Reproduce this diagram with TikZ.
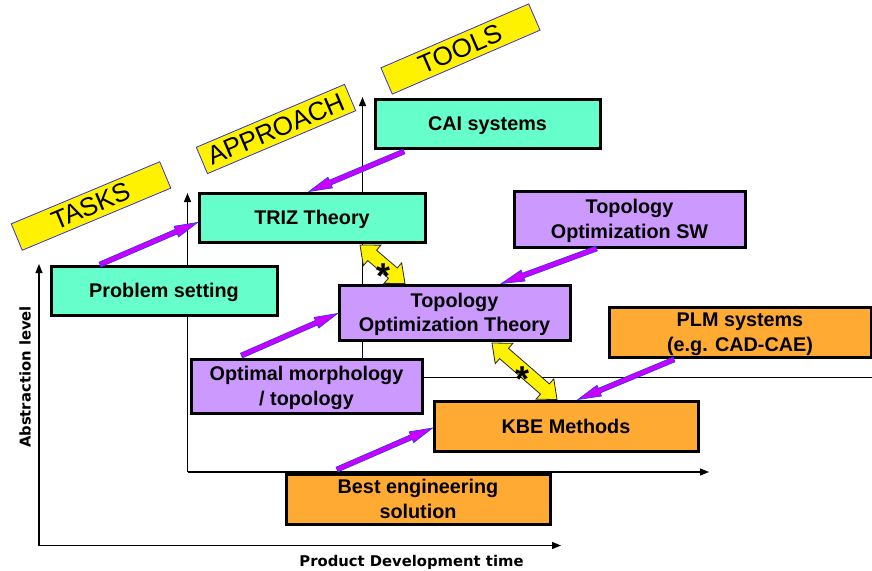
\documentclass[tikz,border=0pt]{standalone}
\usepackage{fontspec}
\setmainfont{Liberation Sans}
\newfontfamily\axisfont{DejaVu Sans}
\usetikzlibrary{calc,arrows.meta}
\definecolor{aquaC}{HTML}{66FFCC}
\definecolor{purpC}{HTML}{CC99FF}
\definecolor{oranC}{HTML}{FFAA33}
\definecolor{violC}{HTML}{CC00FF}
\definecolor{blueC}{HTML}{3333FF}
\definecolor{labB}{HTML}{3333CC}
\newcommand\bxfont{\fontsize{19.8}{24.5}\selectfont\bfseries}
% purple single arrow from #1 to #2
\newcommand\pArrow[2]{%
  \coordinate (pa-b) at ($(#2)!23pt!(#1)$);
  \filldraw[parrow] ($(#1)!2.5pt!90:(#2)$) -- ($(pa-b)!2.5pt!90:(#2)$) -- ($(pa-b)!5.8pt!90:(#2)$) -- (#2)
    -- ($(pa-b)!5.8pt!-90:(#2)$) -- ($(pa-b)!2.5pt!-90:(#2)$) -- ($(#1)!2.5pt!-90:(#2)$) -- cycle;
}
% yellow double block arrow between #1 and #2
\newcommand\yArrow[2]{%
  \coordinate (ya-a) at ($(#1)!16pt!(#2)$);
  \coordinate (ya-b) at ($(#2)!16pt!(#1)$);
  \filldraw[yarrow] (#1) -- ($(ya-a)!13.5pt!90:(#2)$) -- ($(ya-a)!6.8pt!90:(#2)$) -- ($(ya-b)!6.8pt!-90:(#1)$)
    -- ($(ya-b)!13.5pt!-90:(#1)$) -- (#2) -- ($(ya-b)!13.5pt!90:(#1)$) -- ($(ya-b)!6.8pt!90:(#1)$)
    -- ($(ya-a)!6.8pt!-90:(#2)$) -- ($(ya-a)!13.5pt!-90:(#2)$) -- cycle;
}
\begin{document}
\begin{tikzpicture}[x=1pt,y=-1pt,
  box/.style={draw=black, line width=3pt, inner sep=0pt, align=center, font=\bxfont, text depth=0pt},
  aqua/.style={box, fill=aquaC},
  purp/.style={box, fill=purpC},
  oran/.style={box, fill=oranC},
  lab/.style={draw=labB, line width=0.8pt, fill=yellow, inner sep=0pt, minimum width=161pt, minimum height=28.6pt, font=\fontsize{26}{30}\selectfont},
  axlab/.style={inner sep=0pt, font=\axisfont\bfseries\fontsize{14.8}{18}\selectfont},
  axis/.style={line width=1.2pt, -{Triangle[length=9pt,width=7pt]}},
  axisline/.style={line width=1.2pt},
  parrow/.style={fill=violC, draw=blueC, line width=0.7pt, line join=miter},
  yarrow/.style={fill=yellow, draw=black!85, line width=0.8pt, line join=miter},
  starlab/.style={inner sep=0pt, font=\fontsize{36}{36}\selectfont\bfseries}
]
\useasboundingbox (0,0) rectangle (872,570);

% axis end points
\coordinate (o1) at (39,545.5);
\coordinate (o1y) at (39,264);
\coordinate (o1x) at (561,545.5);
\coordinate (o2) at (187.5,472);
\coordinate (o2y) at (187.5,193);
\coordinate (o2x) at (709,472);
\coordinate (o3) at (362.5,377.7);
\coordinate (o3y) at (362.5,97);
\coordinate (o3x) at (873,377.7);

\draw[axis] (o1) -- (o1y);
\draw[axis] (o1) -- (o1x);
\draw[axis] (o2) -- (o2y);
\draw[axis] (o2) -- (o2x);
\draw[axis] (o3) -- (o3y);
\draw[axisline] (o3) -- (o3x);

% labels
\node[lab, rotate=22.7] (tasks) at (91,206) {TASKS};
\node[lab, rotate=23] (appr) at (276,129) {APPROACH};
\node[lab, rotate=23.4] (tools) at (460.5,49) {TOOLS};

% boxes
\node[aqua, minimum width=225pt, minimum height=49pt] (cai) at (487.5,123.5) {CAI systems};
\node[aqua, minimum width=226pt, minimum height=49pt] (triz) at (312,217.5) {TRIZ Theory};
\node[aqua, minimum width=226pt, minimum height=49pt] (ps) at (164,290.5) {Problem setting};
\node[purp, minimum width=231pt, minimum height=56pt] (tsw) at (629.5,219) {Topology\\Optimization SW};
\node[purp, minimum width=231pt, minimum height=55pt] (tth) at (454.5,312.5) {Topology\\Optimization Theory};
\node[purp, minimum width=231pt, minimum height=54pt] (om) at (306.5,386) {Optimal morphology\\/ topology};
\node[oran, minimum width=262pt, minimum height=50pt] (plm) at (740,332) {PLM systems\\(e.g. CAD-CAE)};
\node[oran, minimum width=264pt, minimum height=50pt] (kbe) at (566,426) {KBE Methods};
\node[oran, minimum width=264pt, minimum height=50pt] (bes) at (418,499) {Best engineering\\solution};

% axis titles
\node[axlab, rotate=90] (ylab) at (25,377) {Abstraction level};
\node[axlab] (xlab) at (411.5,562) {Product Development time};

% purple arrows
\coordinate (p1s) at ([xshift=-64pt]ps.north);
\coordinate (p1e) at ([yshift=-5pt]triz.west);
\coordinate (p2s) at ([xshift=-83.5pt,yshift=-2pt]cai.south);
\coordinate (p2e) at ([xshift=-3pt]triz.north);
\coordinate (p3s) at ([xshift=-33pt]tsw.south);
\coordinate (p3e) at ([xshift=47pt]tth.north);
\coordinate (p4s) at ([xshift=-65pt,yshift=2pt]om.north);
\coordinate (p4e) at ([yshift=-1pt]tth.west);
\coordinate (p5s) at ([xshift=-66pt,yshift=-1pt]plm.south);
\coordinate (p5e) at ([xshift=12pt]kbe.north);
\coordinate (p6s) at ([xshift=-81pt,yshift=3pt]bes.north);
\coordinate (p6e) at ([yshift=-2pt]kbe.west);
\pArrow{p1s}{p1e}
\pArrow{p2s}{p2e}
\pArrow{p3s}{p3e}
\pArrow{p4s}{p4e}
\pArrow{p5s}{p5e}
\pArrow{p6s}{p6e}

% yellow double arrows
\coordinate (y1a) at ([xshift=48pt,yshift=-1.5pt]triz.south);
\coordinate (y1b) at ([xshift=-49.5pt]tth.north);
\coordinate (y2a) at ([xshift=37.5pt,yshift=-1.5pt]tth.south);
\coordinate (y2b) at ([xshift=-9pt]kbe.north);
\yArrow{y1a}{y1b}
\yArrow{y2a}{y2b}
\node[starlab] (star1) at (383,276) {*};
\node[starlab] (star2) at (522,379.5) {*};
\end{tikzpicture}
\end{document}
